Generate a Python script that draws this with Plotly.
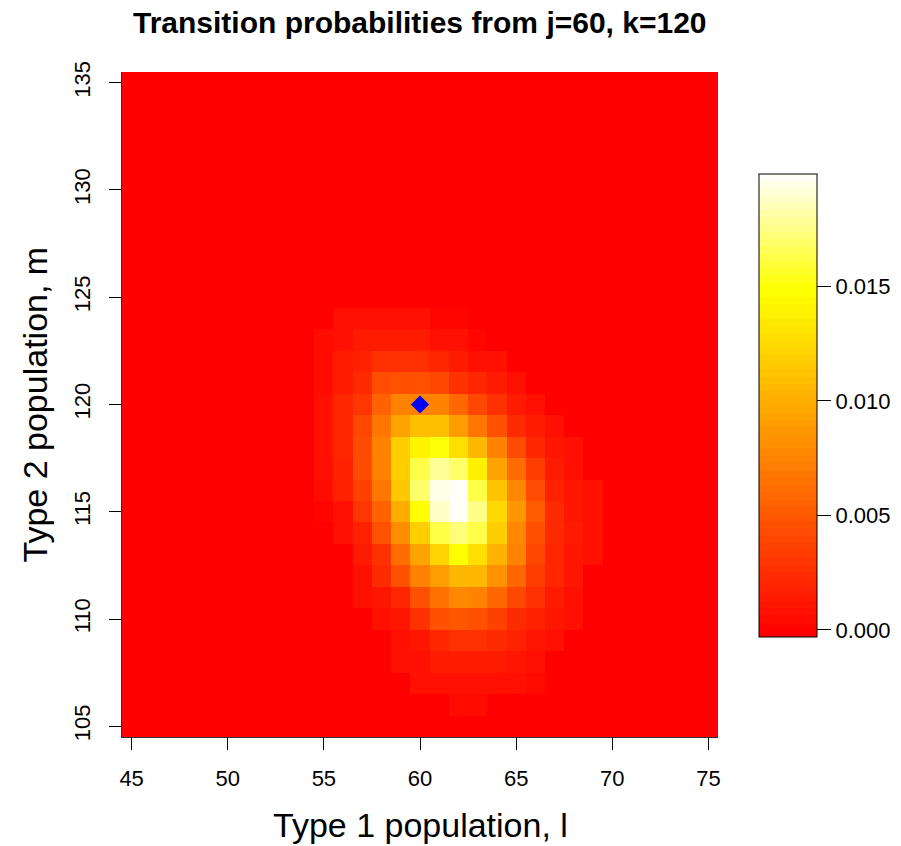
import colorsys
import numpy as np
import plotly.graph_objects as go

# Grid of populations
l_vals = list(range(45, 76))          # Type 1 population, l
m_vals = list(range(105, 136))        # Type 2 population, m

# Non-negligible transition probabilities, block l = 54..70, m = 105..124
block_l = list(range(54, 71))
block_m = list(range(105, 125))
p_m105 = [0, 0, 0, 0, 0, 0, 0, 0, 0, 0, 0, 0, 0, 0, 0, 0, 0]
p_m106 = [0, 0, 0, 0, 0, 0, 0, 0, .00053, .00053, 0, 0, 0, 0, 0, 0, 0]
p_m107 = [0, 0, 0, 0, 0, 0, .00085, .00085, .00085, .00085, .00085, .00085, .00053, 0, 0, 0, 0]
p_m108 = [0, 0, 0, 0, 0, .00085, .00085, .00149, .00149, .00149, .00149, .00117, .00085, 0, 0, 0, 0]
p_m109 = [0, 0, 0, 0, 0, .00085, .00117, .00212, .00275, .00275, .00244, .00180, .00117, .00085, 0, 0, 0]
p_m110 = [0, 0, 0, 0, .00085, .00117, .00275, .00466, .00497, .00466, .00370, .00244, .00180, .00117, .00085, 0, 0]
p_m111 = [0, 0, 0, .00085, .00117, .00212, .00466, .00656, .00783, .00751, .00592, .00402, .00275, .00149, .00085, 0, 0]
p_m112 = [0, 0, 0, .00085, .00244, .00466, .00751, .00909, .01068, .01068, .00846, .00592, .00339, .00212, .00117, 0, 0]
p_m113 = [0, 0, 0, .00149, .00275, .00624, .00941, .01226, .01480, .01290, .01036, .00751, .00402, .00212, .00117, .00085, 0]
p_m114 = [0, 0, .00085, .00180, .00466, .00814, .01195, .01623, .01733, .01623, .01195, .00783, .00466, .00244, .00149, .00085, 0]
p_m115 = [0, .00022, .00085, .00307, .00561, .01004, .01480, .01876, .01990, .01749, .01258, .00878, .00529, .00244, .00117, .00085, 0]
p_m116 = [0, .00053, .00180, .00370, .00687, .01163, .01702, .01955, .01974, .01638, .01131, .00783, .00434, .00180, .00117, .00085, 0]
p_m117 = [0, .00085, .00180, .00434, .00751, .01195, .01623, .01797, .01686, .01385, .00941, .00624, .00339, .00149, .00085, 0, 0]
p_m118 = [0, .00085, .00212, .00434, .00751, .01195, .01417, .01512, .01290, .01068, .00751, .00434, .00212, .00117, .00085, 0, 0]
p_m119 = [0, .00085, .00212, .00402, .00687, .00941, .01100, .01100, .00909, .00687, .00466, .00244, .00149, .00085, 0, 0, 0]
p_m120 = [0, .00085, .00212, .00307, .00561, .00751, .00751, .00751, .00592, .00402, .00275, .00149, .00085, 0, 0, 0, 0]
p_m121 = [0, .00053, .00149, .00244, .00434, .00466, .00466, .00402, .00275, .00212, .00149, .00085, 0, 0, 0, 0, 0]
p_m122 = [0, .00053, .00149, .00180, .00275, .00275, .00275, .00212, .00149, .00085, .00085, 0, 0, 0, 0, 0, 0]
p_m123 = [0, .00053, .00085, .00149, .00149, .00149, .00149, .00085, .00085, .00022, 0, 0, 0, 0, 0, 0, 0]
p_m124 = [0, 0, .00085, .00085, .00085, .00085, .00085, .00022, .00022, 0, 0, 0, 0, 0, 0, 0, 0]

block_rows = [p_m105, p_m106, p_m107, p_m108, p_m109, p_m110, p_m111, p_m112,
              p_m113, p_m114, p_m115, p_m116, p_m117, p_m118, p_m119, p_m120,
              p_m121, p_m122, p_m123, p_m124]

# Starting state
start_l = [60]
start_m = [120]

colorbar_ticks = [0.0, 0.005, 0.010, 0.015]

# Full probability surface (zero outside the block)
z = np.zeros((len(m_vals), len(l_vals)))
i0 = m_vals.index(block_m[0])
j0 = l_vals.index(block_l[0])
z[i0:i0 + len(block_m), j0:j0 + len(block_l)] = np.array(block_rows)


def heat_colors(n):
    """R-style heat.colors palette: red -> yellow, then yellow -> white."""
    j = n // 4
    i = n - j
    cols = []
    for k in range(i):
        h = (1 / 6) * k / (i - 1)
        cols.append(colorsys.hsv_to_rgb(h, 1, 1))
    for k in range(j):
        s = (1 - 1 / (2 * j)) + ((1 / (2 * j)) - (1 - 1 / (2 * j))) * k / (j - 1)
        cols.append(colorsys.hsv_to_rgb(1 / 6, s, 1))
    return ["rgb(%d,%d,%d)" % tuple(round(c * 255) for c in rgb) for rgb in cols]


palette = heat_colors(64)
n = len(palette)
colorscale = []
for k, c in enumerate(palette):
    colorscale.append([k / n, c])
    colorscale.append([(k + 1) / n, c])

FONT = "Liberation Sans, Arial, Helvetica, sans-serif"

fig = go.Figure()
fig.add_trace(go.Heatmap(
    x=l_vals, y=m_vals, z=z,
    zmin=-0.00031, zmax=0.0199,
    colorscale=colorscale,
    colorbar=dict(
        thickness=58, thicknessmode="pixels",
        len=463, lenmode="pixels",
        x=1.0688, xanchor="left", xpad=0,
        y=0.4985, yanchor="middle", ypad=0,
        outlinewidth=1, outlinecolor="black",
        tickmode="array", tickvals=colorbar_ticks,
        tickformat=".3f",
        ticks="outside", ticklen=14, tickcolor="black", tickwidth=1,
        tickfont=dict(family=FONT, size=22, color="black"),
    ),
    hoverinfo="skip",
))
fig.add_trace(go.Scatter(
    x=start_l, y=start_m, mode="markers",
    marker=dict(symbol="diamond", size=14, color="#0000FF", line=dict(width=0)),
    showlegend=False, hoverinfo="skip",
))

fig.update_layout(
    width=901, height=846,
    margin=dict(l=122, r=183, t=72, b=109, autoexpand=False),
    paper_bgcolor="white", plot_bgcolor="white",
    font=dict(family=FONT, color="black"),
    showlegend=False,
    xaxis=dict(
        range=[44.5, 75.5], tickmode="array", tickvals=list(range(45, 76, 5)),
        ticks="outside", ticklen=12, tickcolor="black", tickwidth=1,
        showline=True, linecolor="#333333", linewidth=1,
        showgrid=False, zeroline=False,
        tickfont=dict(family=FONT, size=22, color="black"),
        ticklabelstandoff=10,
    ),
    yaxis=dict(
        range=[104.5, 135.5], tickmode="array", tickvals=list(range(105, 136, 5)),
        ticks="outside", ticklen=12, tickcolor="black", tickwidth=1,
        showline=True, linecolor="#333333", linewidth=1,
        showgrid=False, zeroline=False, tickangle=-90,
        tickfont=dict(family=FONT, size=22, color="black"),
        ticklabelstandoff=10,
    ),
    annotations=[
        dict(text="<b>Transition probabilities from j=60, k=120</b>",
             xref="paper", yref="paper", x=0.5, y=1.075,
             xanchor="center", yanchor="middle", showarrow=False,
             font=dict(family=FONT, size=30, color="black")),
        dict(text="Type 1 population, l",
             xref="paper", yref="paper", x=0.5, y=-0.1323,
             xanchor="center", yanchor="middle", showarrow=False,
             font=dict(family=FONT, size=34, color="black")),
        dict(text="Type 2 population, m",
             xref="paper", yref="paper", x=-0.146, y=0.5, textangle=-90,
             xanchor="center", yanchor="middle", showarrow=False,
             font=dict(family=FONT, size=34, color="black")),
    ],
)

fig.write_html("out.html")
